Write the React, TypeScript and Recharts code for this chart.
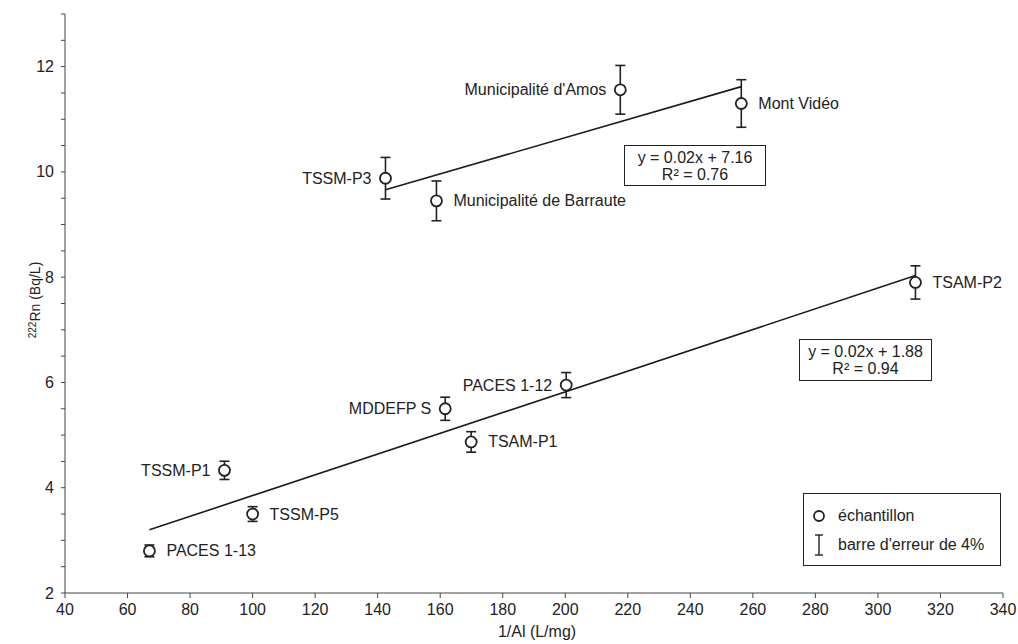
import React from 'react';
import { ComposedChart, Scatter, ErrorBar, XAxis, YAxis } from 'recharts';

// 222Rn en fonction de 1/Al, deux groupes de puits
const upperNames = ['TSSM-P3', 'Municipalité de Barraute', "Municipalité d'Amos", 'Mont Vidéo'];
const upperX = [142.5, 158.8, 217.6, 256.3];
const upperY = [9.88, 9.45, 11.56, 11.3];

const lowerNames = ['PACES 1-13', 'TSSM-P1', 'TSSM-P5', 'MDDEFP S', 'TSAM-P1', 'PACES 1-12', 'TSAM-P2'];
const lowerX = [67, 91, 100, 161.6, 169.9, 200.3, 312];
const lowerY = [2.8, 4.33, 3.5, 5.5, 4.87, 5.95, 7.9];

// extrémités des droites de tendance
const upperTrendX = [142.5, 256.3];
const upperTrendY = [9.66, 11.62];
const lowerTrendX = [67, 312];
const lowerTrendY = [3.2, 8.03];

const xTicks = [40, 60, 80, 100, 120, 140, 160, 180, 200, 220, 240, 260, 280, 300, 320, 340];
const yTicks = [2, 2.5, 3, 3.5, 4, 4.5, 5, 5.5, 6, 6.5, 7, 7.5, 8, 8.5, 9, 9.5, 10, 10.5, 11, 11.5, 12, 12.5, 13];
const yTickLabels = [2, 4, 6, 8, 10, 12];

const upperEquation = ['y = 0.02x + 7.16', 'R² = 0.76'];
const lowerEquation = ['y = 0.02x + 1.88', 'R² = 0.94'];
const legendItems = ['échantillon', "barre d'erreur de 4%"];

const ERROR_PCT = 0.04;

const FONT = "'Liberation Sans', Arial, sans-serif";
const INK = '#222';

// côté de l'étiquette de chaque point
const labelSide: Record<string, 'left' | 'right'> = {
  'TSSM-P3': 'left',
  'Municipalité de Barraute': 'right',
  "Municipalité d'Amos": 'left',
  'Mont Vidéo': 'right',
  'PACES 1-13': 'right',
  'TSSM-P1': 'left',
  'TSSM-P5': 'right',
  'MDDEFP S': 'left',
  'TSAM-P1': 'right',
  'PACES 1-12': 'left',
  'TSAM-P2': 'right',
};

const toPoints = (names: string[], xs: number[], ys: number[]) =>
  xs.map((x, i) => ({ name: names[i], x, y: ys[i], err: ys[i] * ERROR_PCT }));

const toLine = (xs: number[], ys: number[]) => xs.map((x, i) => ({ x, y: ys[i] }));

const upperData = toPoints(upperNames, upperX, upperY);
const lowerData = toPoints(lowerNames, lowerX, lowerY);
const upperTrend = toLine(upperTrendX, upperTrendY);
const lowerTrend = toLine(lowerTrendX, lowerTrendY);

const PointMark = (props: any) => {
  const { cx, cy, payload } = props;
  const left = labelSide[payload.name] === 'left';
  return (
    <g>
      <circle cx={cx} cy={cy} r={5.5} fill="#fff" stroke={INK} strokeWidth={1.8} />
      <text
        x={left ? cx - 14 : cx + 17}
        y={cy}
        textAnchor={left ? 'end' : 'start'}
        dominantBaseline="central"
        fontFamily={FONT}
        fontSize={16}
        fill={INK}
      >
        {payload.name}
      </text>
    </g>
  );
};

const YTick = (props: any) => {
  const { x, y, payload } = props;
  if (!yTickLabels.includes(payload.value)) return <g />;
  return (
    <text x={x} y={y} textAnchor="end" dominantBaseline="central" fontFamily={FONT} fontSize={16} fill={INK}>
      {payload.value}
    </text>
  );
};

const EquationBox = ({ lines, left, top, width, height }: any) => (
  <div
    style={{
      position: 'absolute',
      left,
      top,
      width,
      height,
      border: `1.5px solid ${INK}`,
      boxSizing: 'border-box',
      background: '#fff',
      fontFamily: FONT,
      fontSize: 16,
      color: INK,
      textAlign: 'center',
      lineHeight: '17px',
      paddingTop: 3,
    }}
  >
    {lines.map((l: string) => (
      <div key={l}>{l}</div>
    ))}
  </div>
);

export default function App() {
  return (
    <div style={{ position: 'absolute', left: 0, top: 0, width: 1018, height: 644, background: '#fff' }}>
      <ComposedChart width={1018} height={644} margin={{ top: 14, right: 15, bottom: 0, left: 0 }}>
        <XAxis
          type="number"
          dataKey="x"
          domain={[40, 340]}
          ticks={xTicks}
          allowDataOverflow
          height={51}
          tickSize={5}
          tickMargin={6}
          stroke="#444"
          tick={{ fontFamily: FONT, fontSize: 16, fill: INK }}
          label={{
            content: () => (
              <text x={537} y={631} textAnchor="middle" dominantBaseline="central" fontFamily={FONT} fontSize={16} fill={INK}>
                1/Al (L/mg)
              </text>
            ),
          }}
        />
        <YAxis
          type="number"
          dataKey="y"
          domain={[2, 13]}
          ticks={yTicks}
          allowDataOverflow
          width={65}
          tickSize={4}
          tickMargin={7}
          stroke="#444"
          tick={<YTick />}
          label={{
            content: () => (
              <text
                transform="translate(35,300) rotate(-90)"
                textAnchor="middle"
                dominantBaseline="central"
                fontFamily={FONT}
                fontSize={14}
                fill={INK}
              >
                <tspan fontSize={10} dy={-3}>222</tspan>
                <tspan dy={3}>Rn (Bq/L)</tspan>
              </text>
            ),
          }}
        />
        <Scatter
          data={upperTrend}
          dataKey="y"
          line={{ stroke: '#1c1c1c', strokeWidth: 1.6 }}
          shape={() => <g />}
          isAnimationActive={false}
        />
        <Scatter
          data={lowerTrend}
          dataKey="y"
          line={{ stroke: '#1c1c1c', strokeWidth: 1.6 }}
          shape={() => <g />}
          isAnimationActive={false}
        />
        <Scatter data={upperData} dataKey="y" shape={PointMark} isAnimationActive={false}>
          <ErrorBar dataKey="err" direction="y" width={5} stroke={INK} strokeWidth={1.6} isAnimationActive={false} />
        </Scatter>
        <Scatter data={lowerData} dataKey="y" shape={PointMark} isAnimationActive={false}>
          <ErrorBar dataKey="err" direction="y" width={5} stroke={INK} strokeWidth={1.6} isAnimationActive={false} />
        </Scatter>
      </ComposedChart>

      <EquationBox lines={upperEquation} left={624} top={145} width={142} height={41} />
      <EquationBox lines={lowerEquation} left={799} top={339} width={133} height={42} />

      <div
        style={{
          position: 'absolute',
          left: 803,
          top: 493,
          width: 198,
          height: 73,
          border: `1.5px solid ${INK}`,
          boxSizing: 'border-box',
          fontFamily: FONT,
          fontSize: 16,
          color: INK,
        }}
      >
        <svg width={30} height={70} style={{ position: 'absolute', left: 0, top: 0 }}>
          <circle cx={15} cy={22} r={5} fill="#fff" stroke={INK} strokeWidth={1.8} />
          <line x1={15} y1={41} x2={15} y2={61} stroke={INK} strokeWidth={1.4} />
          <line x1={11} y1={41} x2={19} y2={41} stroke={INK} strokeWidth={1.4} />
          <line x1={11} y1={61} x2={19} y2={61} stroke={INK} strokeWidth={1.4} />
        </svg>
        <div style={{ position: 'absolute', left: 34, top: 12, lineHeight: '20px' }}>{legendItems[0]}</div>
        <div style={{ position: 'absolute', left: 34, top: 41, lineHeight: '20px' }}>{legendItems[1]}</div>
      </div>
    </div>
  );
}
